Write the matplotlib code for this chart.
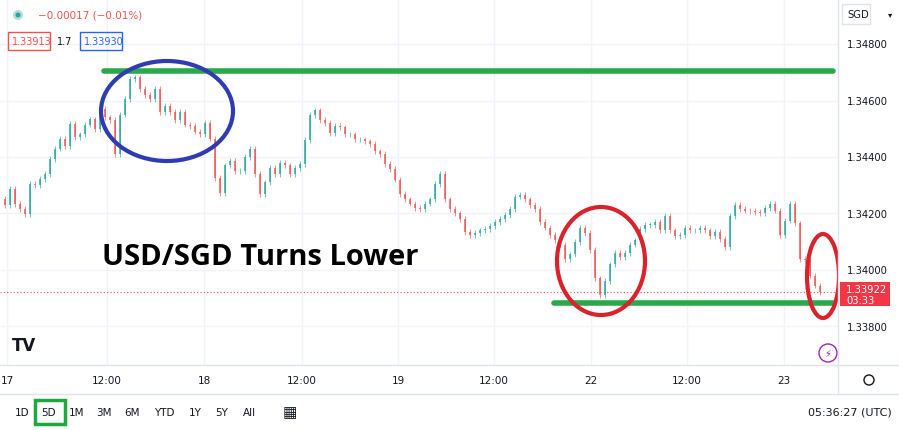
import matplotlib

matplotlib.use("Agg")
import matplotlib.pyplot as plt
from matplotlib.patches import Ellipse, Rectangle, Circle

W, H = 899, 431
CHART_W, CHART_H = 838, 366

# candle positions (pixel columns) and closes
candle_x = [0, 5, 10, 15, 20, 25, 30, 35, 40, 45, 50, 55, 60, 65, 70, 75, 80, 85, 90, 95,
            100, 105, 110, 115, 120, 125, 130, 135, 140, 145, 150, 155, 160, 165, 170, 175,
            180, 185, 190, 195, 200, 205, 210, 215, 220, 225, 230, 235, 240, 245, 250, 255,
            260, 265, 270, 275, 280, 285, 290, 295, 300, 305, 310, 315, 320, 325, 330, 335,
            340, 345, 350, 355, 360, 365, 370, 375, 380, 385, 390, 395, 400, 405, 410, 415,
            420, 425, 430, 435, 440, 445, 450, 455, 460, 465, 470, 475, 480, 485, 490, 495,
            500, 505, 510, 515, 520, 525, 530, 535, 540, 545, 550, 555, 560, 565, 570, 575,
            580, 585, 590, 595, 600, 605, 610, 615, 620, 625, 630, 635, 640, 645, 650, 655,
            660, 665, 670, 675, 680, 685, 690, 695, 700, 705, 710, 715, 720, 725, 730, 735,
            740, 745, 750, 755, 760, 765, 770, 775, 780, 785, 790, 795, 800, 805, 810, 815,
            820, 825, 830]
closes = [1.34251, 1.34230, 1.34286, 1.34233, 1.34215, 1.34197, 1.34304, 1.34300, 1.34321,
          1.34340, 1.34392, 1.34430, 1.34463, 1.34440, 1.34516, 1.34470, 1.34480, 1.34515,
          1.34533, 1.34500, 1.34570, 1.34540, 1.34530, 1.34410, 1.34550, 1.34605, 1.34675,
          1.34682, 1.34640, 1.34620, 1.34605, 1.34640, 1.34560, 1.34580, 1.34560, 1.34530,
          1.34560, 1.34515, 1.34510, 1.34490, 1.34480, 1.34520, 1.34465, 1.34325, 1.34272,
          1.34370, 1.34385, 1.34350, 1.34350, 1.34400, 1.34428, 1.34340, 1.34270, 1.34310,
          1.34360, 1.34340, 1.34378, 1.34370, 1.34340, 1.34360, 1.34375, 1.34460, 1.34548,
          1.34565, 1.34530, 1.34520, 1.34485, 1.34510, 1.34505, 1.34480, 1.34480, 1.34462,
          1.34462, 1.34455, 1.34445, 1.34420, 1.34410, 1.34375, 1.34358, 1.34320, 1.34270,
          1.34250, 1.34235, 1.34220, 1.34215, 1.34235, 1.34250, 1.34305, 1.34340, 1.34250,
          1.34215, 1.34200, 1.34180, 1.34135, 1.34125, 1.34130, 1.34140, 1.34145, 1.34155,
          1.34170, 1.34180, 1.34195, 1.34215, 1.34260, 1.34265, 1.34250, 1.34230, 1.34215,
          1.34170, 1.34150, 1.34125, 1.34105, 1.34090, 1.34040, 1.34055, 1.34100, 1.34150,
          1.34130, 1.34070, 1.33970, 1.33910, 1.33960, 1.34020, 1.34060, 1.34045, 1.34060,
          1.34090, 1.34105, 1.34145, 1.34160, 1.34160, 1.34170, 1.34140, 1.34190, 1.34140,
          1.34120, 1.34125, 1.34150, 1.34140, 1.34140, 1.34150, 1.34140, 1.34120, 1.34135,
          1.34110, 1.34080, 1.34190, 1.34230, 1.34215, 1.34210, 1.34208, 1.34205, 1.34200,
          1.34220, 1.34235, 1.34210, 1.34125, 1.34175, 1.34235, 1.34165, 1.34040, 1.34035,
          1.33980, 1.33945, 1.33922]

price_ticks = [1.338, 1.340, 1.342, 1.344, 1.346, 1.348]
time_ticks_x = [7, 107, 204, 302, 398, 494, 591, 687, 784]
time_labels = ["17", "12:00", "18", "12:00", "19", "12:00", "22", "12:00", "23"]
ranges = ["1D", "5D", "1M", "3M", "6M", "YTD", "1Y", "5Y", "All"]
ranges_x = [22, 49, 77, 104, 132, 164, 195, 222, 249]

UP = "#26a69a"
DOWN = "#ef5350"
TEXT = "#131722"


def py2price(py):
    return 1.348 - (py - 45) / 28.25 * 0.001


fig = plt.figure(figsize=(W / 100, H / 100), dpi=100)
fig.patch.set_facecolor("white")
ax = fig.add_axes([0, (H - CHART_H) / H, CHART_W / W, CHART_H / H])
ax.set_xlim(0, CHART_W)
ax.set_ylim(py2price(CHART_H), py2price(0))
for s in ax.spines.values():
    s.set_visible(False)
ax.set_xticks([])
ax.set_yticks([])

for p in price_ticks:
    ax.axhline(p, color="#f0f3fa", lw=1, zorder=0)
for tx in time_ticks_x:
    ax.axvline(tx, color="#f0f3fa", lw=1, zorder=0)

# candles
for i in range(1, len(closes)):
    o, c = closes[i - 1], closes[i]
    x = candle_x[i]
    col = UP if c >= o else DOWN
    hi = max(o, c) + 0.0001
    lo = min(o, c) - 0.0001
    ax.vlines(x, lo, hi, color=col, lw=0.6, alpha=0.75, zorder=2)
    ax.add_patch(Rectangle((x - 0.9, min(o, c)), 1.8, max(abs(c - o), 0.00002),
                           color=col, alpha=0.75, zorder=3, lw=0))

last = closes[-1]
ax.axhline(last, color=DOWN, lw=0.8, ls=(0, (1, 2)), zorder=1)

# annotations
green = "#2ba84a"
ax.plot([104, 833], [py2price(72)] * 2, color=green, lw=4, solid_capstyle="round", zorder=5)
ax.plot([554, 833], [py2price(304)] * 2, color=green, lw=4, solid_capstyle="round", zorder=5)
pscale = 0.001 / 28.25
ax.add_patch(Ellipse((167, py2price(112)), 132, 100 * pscale, fill=False,
                     ec="#2f3bb0", lw=3, zorder=6))
ax.add_patch(Ellipse((601, py2price(262)), 88, 108 * pscale, fill=False,
                     ec="#d9222a", lw=3, zorder=6))
ax.add_patch(Ellipse((823, py2price(277)), 32, 84 * pscale, fill=False,
                     ec="#d9222a", lw=3, zorder=6))
ax.text(102, py2price(258), "USD/SGD Turns Lower", fontsize=21, fontweight="bold",
        family="Open Sans", color="black", va="center", ha="left", zorder=7)

# overlay in pixel coords
ov = fig.add_axes([0, 0, 1, 1], facecolor="none")
ov.set_xlim(0, W)
ov.set_ylim(H, 0)
ov.axis("off")
ov.plot([CHART_W, CHART_W], [0, 395], color="#e0e3eb", lw=1)
ov.plot([0, W], [CHART_H, CHART_H], color="#e0e3eb", lw=1)
ov.plot([0, W], [395, 395], color="#e0e3eb", lw=1)

for p in price_ticks:
    y = 45 + (1.348 - p) / 0.001 * 28.25
    ov.text(847, y, f"{p:.5f}", fontsize=7.2, color=TEXT, va="center")
ylast = 45 + (1.348 - last) / 0.001 * 28.25
ov.add_patch(Rectangle((840, ylast - 10), 50, 24, color="#f23645", lw=0))
ov.text(846, ylast - 3, f"{last:.5f}", fontsize=7.2, color="white", va="center")
ov.text(846, ylast + 8, "03:33", fontsize=7.2, color="white", va="center")
ov.add_patch(Rectangle((842, 5), 28, 20, fill=False, ec="#e0e3eb", lw=1))
ov.text(847, 15, "SGD", fontsize=7.2, color=TEXT, va="center")
ov.text(888, 15, "▾", fontsize=6, color=TEXT, va="center")

for tx, lab in zip(time_ticks_x, time_labels):
    ov.text(tx, 381, lab, fontsize=7.5, color=TEXT, ha="center", va="center")
ov.add_patch(Circle((869, 381), 5, fill=False, ec=TEXT, lw=1))
ov.add_patch(Circle((828, 354), 9, fill=False, ec="#9c27b0", lw=1))
ov.text(828, 354, "⚡", fontsize=7, color="#9c27b0", ha="center", va="center")
ov.text(12, 346, "TV", fontsize=12, fontweight="bold", color=TEXT, va="center")

# legend area
ov.add_patch(Circle((18, 16), 5, color="#b2dfdb", lw=0))
ov.add_patch(Circle((18, 16), 2.5, color=UP, lw=0))
ov.text(38, 16, "\u22120.00017 (\u22120.01%)", fontsize=7.5, color=DOWN, va="center")
ov.add_patch(Rectangle((8, 33), 42, 18, fill=False, ec=DOWN, lw=1))
ov.text(12, 42, "1.33913", fontsize=7, color=DOWN, va="center")
ov.text(57, 42, "1.7", fontsize=7, color=TEXT, va="center")
ov.add_patch(Rectangle((80, 33), 42, 18, fill=False, ec="#2962ff", lw=1))
ov.text(84, 42, "1.33930", fontsize=7, color="#2962ff", va="center")

for rx, lab in zip(ranges_x, ranges):
    ov.text(rx, 413, lab, fontsize=7.5, color=TEXT, ha="center", va="center")
ov.add_patch(Rectangle((35, 401), 30, 24, fill=False, ec="#1fa83c", lw=2.5))
ov.text(290, 413, "\u25a6", fontsize=11, color=TEXT, ha="center", va="center")
ov.text(892, 413, "05:36:27 (UTC)", fontsize=8, color=TEXT, ha="right", va="center")

fig.savefig("out.png", dpi=100)
